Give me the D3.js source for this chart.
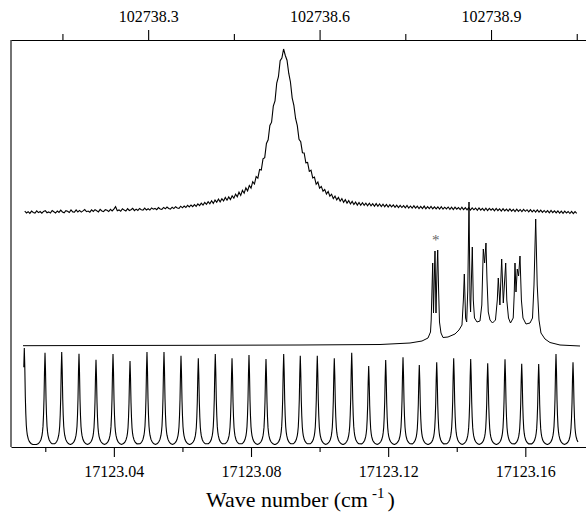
<!DOCTYPE html>
<html><head><meta charset="utf-8">
<script src="https://cdn.jsdelivr.net/npm/d3@7/dist/d3.min.js"></script>
<style>
body{margin:0;background:#fff}
text{font-family:"Liberation Serif","Times New Roman",serif;fill:#000}
</style>
</head><body>
<svg id="chart" width="586" height="513"></svg>
<script>
// ---------- DATA ----------
// wavenumbers are stored as thousandths of cm^-1 above this origin
const WN_ORIGIN = 17123;
const xDomainMilli = [10.0, 177.7];          // visible range (thousandths above origin)
const yDomain = [0, 407];                   // intensity, arbitrary units

const bottomMajorTicks = [17123.04, 17123.08, 17123.12, 17123.16];
const bottomMajorLabels = ["17123.04", "17123.08", "17123.12", "17123.16"];
const bottomMinorTicks = [17123.02, 17123.06, 17123.10, 17123.14];
const topMajorTicks = [102738.3, 102738.6, 102738.9];
const topMajorLabels = ["102738.3", "102738.6", "102738.9"];
const topMinorTicks = [102738.15, 102738.45, 102738.75, 102739.05];
const harmonicFactor = 6;                    // top axis = 6 x bottom axis

// Top trace: broad line, sampled every 0.0005 cm^-1 starting at 17123.014
const topStart = 14.0, topStep = 0.5;
const topValues = [
236.0,234.1,235.3,233.6,235.9,234.6,233.9,236.2,234.4,235.5,
233.8,235.6,236.4,234.3,235.1,233.9,236.5,235.2,234.0,236.0,
234.6,236.8,235.0,234.2,236.3,235.7,234.5,237.0,235.1,234.9,
237.2,235.0,236.6,234.9,236.1,237.5,235.3,236.0,234.8,237.1,
235.6,237.4,236.2,235.1,237.6,236.0,235.4,237.3,236.8,235.5,
237.6,236.1,237.9,240.3,236.2,237.1,235.8,238.2,236.9,236.0,
238.3,236.5,237.2,238.6,236.4,237.9,236.6,238.5,237.3,236.8,
238.9,237.0,238.2,236.9,239.1,237.8,238.6,237.3,239.4,238.0,
237.7,239.6,238.2,240.0,238.6,237.9,239.8,238.4,240.3,239.0,
238.6,240.8,239.2,240.9,239.5,241.6,240.1,242.0,240.4,242.4,
240.6,243.1,241.4,243.9,242.0,244.5,242.6,245.4,243.2,246.2,
243.6,246.9,244.8,247.9,245.2,248.3,246.1,249.6,246.8,250.1,
247.4,251.2,248.9,252.9,250.2,254.8,251.6,256.7,253.8,259.1,
256.2,261.5,258.9,265.3,263.0,270.4,268.8,277.6,276.9,288.1,
289.4,303.5,307.2,321.6,324.8,340.9,346.2,364.0,370.3,386.2,
389.0,398.0,391.5,386.8,373.8,365.0,349.2,341.6,328.5,321.4,
307.6,305.2,294.3,294.1,284.2,284.5,275.6,276.8,269.1,270.0,
262.7,265.0,258.9,260.6,255.8,257.6,253.0,255.5,250.8,252.8,
248.4,250.9,247.1,249.6,245.8,248.4,244.6,247.3,243.9,246.4,
243.0,245.6,242.5,244.9,241.9,244.5,241.7,244.2,241.6,243.9,
241.3,243.8,241.2,243.3,240.8,243.4,240.7,243.0,240.4,242.8,
240.3,242.6,240.0,242.3,240.2,242.1,239.6,241.9,239.5,241.6,
239.5,241.4,239.2,241.5,239.0,241.0,238.8,241.2,238.9,240.8,
238.5,240.7,238.5,240.9,238.2,240.4,238.3,240.5,238.1,240.2,
238.2,240.1,238.0,240.3,237.8,239.8,238.1,240.0,237.7,239.9,
237.5,239.8,237.8,239.5,237.3,239.7,237.4,239.3,237.1,239.4,
237.0,239.2,237.2,239.0,236.7,239.1,236.9,238.7,236.5,238.8,
236.4,238.6,236.8,238.4,236.2,238.5,236.3,238.1,236.0,238.3,
236.1,237.9,235.8,238.1,235.9,237.7,235.5,237.8,235.6,237.5,
235.4,237.6,235.7,237.3,235.1,237.4,235.2,237.0,234.8,237.1,
234.9,236.8,234.6,236.5,234.5,236.3,234.2,236.5,234.3,236.1,
234.1,236.1,233.9,235.8,233.7,235.9,234.0,235.5,233.5,235.7,
233.4,235.4,233.6
];

// Middle trace: hyperfine spectrum (x in thousandths above origin, y intensity)
const midX = [13.50,35.96,65.12,94.29,117.62,126.37,129.87,131.62,132.35,132.55,
132.78,132.99,133.22,133.45,133.66,133.95,134.21,134.45,134.71,134.97,
135.41,135.99,137.45,139.49,140.66,141.53,141.94,142.21,142.58,142.90,
143.22,143.58,143.87,144.04,144.28,144.54,144.83,145.18,145.91,146.78,
147.31,147.54,147.75,148.13,148.53,148.83,149.20,149.70,150.43,151.30,
151.83,152.12,152.59,153.11,153.58,154.28,154.60,155.10,155.68,156.47,
156.76,156.99,157.28,157.66,158.04,158.45,158.86,159.32,160.20,161.37,
162.10,162.53,163.03,163.47,163.99,164.57,165.74,167.20,170.12,173.03,175.95];
const midY = [101.3,101.5,101.7,102,102.5,104,106,109,115,127,
157,184,134,167,196,134,172,197,157,125,
114,109.5,110,113,117,122,147,173,129,125,
157,245,147,135,167,200,147,129,125,126,
142,172,198,184,204,167,135,127,124,127,
147,169,142,188,144,184,147,129,124,129,
152,184,155,178,171,191,147,129,123,124,
129,162,228,162,127,114,108,104.5,102,101.5,101];

// Asterisk annotation
const starX = 133.86, starY = 202;

// Bottom trace: etalon fringes (peak positions, peak heights, baseline)
const fringePos = [13.88,19.92,24.79,29.83,34.79,39.75,44.71,49.66,54.62,59.58,
64.63,69.58,74.46,79.41,84.37,89.53,94.37,99.33,104.29,109.37,
114.32,119.28,124.33,129.08,134.16,139.11,144.07,149.03,154.08,158.95,
163.90,168.95,173.91];
const fringeHeight = [99,94.3,95,93.3,87.3,93,86,95,95,91.3,
88.7,93,88.7,92,88,93,91.3,91.3,88.7,94.3,
81,87,89.7,82,84.7,88.7,88,83.7,87.7,83.3,
83,93,84.7];
const fringeBase = 2.5;
const fringeStart = 13.73, fringeEnd = 175.4;
// single fringe line shape (offset in thousandths, relative height)
const profileOff = [0, 0.146, 0.292, 0.437, 0.583, 0.729, 0.875, 1.167, 1.458, 1.75, 2.04, 2.48];
const profileRel = [1, 0.8, 0.5, 0.32, 0.2, 0.14, 0.1, 0.055, 0.032, 0.018, 0.008, 0];

// ---------- DRAW ----------
const svg = d3.select("#chart");
const SERIF = '"Liberation Serif","Times New Roman",Times,serif';
const toWn = m => WN_ORIGIN + m / 1000;
const x = d3.scaleLinear().domain(xDomainMilli.map(toWn)).range([11, 586]);
const xTop = d3.scaleLinear().domain(xDomainMilli.map(m => toWn(m) * harmonicFactor)).range([11, 586]);
const y = d3.scaleLinear().domain(yDomain).range([447, 40]);

const line = d3.line().x(d => x(toWn(d[0]))).y(d => y(d[1]));

// top trace
const topPts = topValues.map((v, i) => [topStart + i * topStep, v]);
svg.append("path").attr("d", line(topPts))
  .attr("fill", "none").attr("stroke", "#000").attr("stroke-width", 1.1);

// middle trace
const midPts = midX.map((v, i) => [v, midY[i]]);
svg.append("path").attr("d", line(midPts))
  .attr("fill", "none").attr("stroke", "#000").attr("stroke-width", 1);

svg.append("text").attr("x", x(toWn(starX))).attr("y", y(starY))
  .attr("text-anchor", "middle").attr("font-family", SERIF)
  .style("font-size", "15px").style("fill", "#666").text("*");

// bottom trace
let fr = [];
fringePos.forEach((c, i) => {
  const lo = i > 0 ? (fringePos[i - 1] + c) / 2 : -Infinity;
  const hi = i < fringePos.length - 1 ? (c + fringePos[i + 1]) / 2 : Infinity;
  for (let k = -(profileOff.length - 1); k < profileOff.length; k++) {
    const off = Math.sign(k) * profileOff[Math.abs(k)];
    const xm = c + off;
    if (xm > lo && xm <= hi) {
      fr.push([xm, fringeBase + profileRel[Math.abs(k)] * (fringeHeight[i] - fringeBase)]);
    }
  }
});
fr = fr.filter(d => d[0] >= fringeStart && d[0] <= fringeEnd).sort((a, b) => a[0] - b[0]);
svg.append("path").attr("d", line(fr))
  .attr("fill", "none").attr("stroke", "#000").attr("stroke-width", 1.1);

// axes
const fmtMap = (ticks, labels) => v => { const i = ticks.indexOf(v); return i >= 0 ? labels[i] : ""; };
const gB = svg.append("g").attr("transform", `translate(0,${y(yDomain[0])})`);
gB.call(d3.axisBottom(x).tickValues(bottomMajorTicks).tickSize(10).tickSizeOuter(0).tickPadding(9)
  .tickFormat(fmtMap(bottomMajorTicks, bottomMajorLabels)));
const gBm = svg.append("g").attr("transform", `translate(0,${y(yDomain[0])})`);
gBm.call(d3.axisBottom(x).tickValues(bottomMinorTicks).tickSize(5).tickSizeOuter(0).tickFormat(""));
gBm.select(".domain").remove();

const gT = svg.append("g").attr("transform", `translate(0,${y(yDomain[1])})`);
gT.call(d3.axisTop(xTop).tickValues(topMajorTicks).tickSize(10).tickSizeOuter(0).tickPadding(8)
  .tickFormat(fmtMap(topMajorTicks, topMajorLabels)));
const gTm = svg.append("g").attr("transform", `translate(0,${y(yDomain[1])})`);
gTm.call(d3.axisTop(xTop).tickValues(topMinorTicks).tickSize(6).tickSizeOuter(0).tickFormat(""));
gTm.select(".domain").remove();

svg.selectAll("g").attr("font-family", SERIF);
svg.selectAll(".tick text").attr("font-family", SERIF).style("font-size", "16px");
svg.selectAll(".domain, .tick line").attr("stroke", "#000").attr("stroke-width", 1.1);

// left frame
svg.append("line").attr("x1", x.range()[0]).attr("x2", x.range()[0])
  .attr("y1", y(yDomain[0])).attr("y2", y(yDomain[1]))
  .attr("stroke", "#000").attr("stroke-width", 1.1);

// axis title
const title = svg.append("text").attr("x", 206).attr("y", 507)
  .attr("text-anchor", "start").attr("font-family", SERIF).style("font-size", "22px");
title.append("tspan").text("Wave number (cm");
title.append("tspan").attr("dy", -9).attr("dx", 4).style("font-size", "15px").text("-1");
title.append("tspan").attr("dy", 9).attr("dx", 3).text(")");
</script>
</body></html>
